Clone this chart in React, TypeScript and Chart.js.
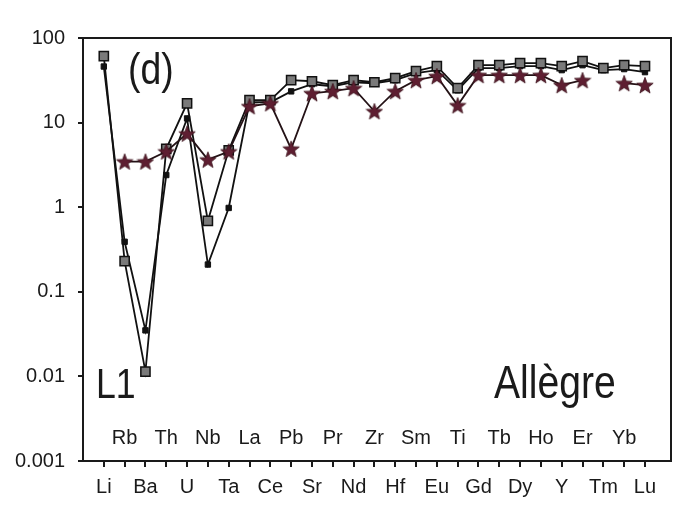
import React, { useEffect, useRef } from "react";
import { Chart, registerables } from "chart.js";

Chart.register(...registerables);

const categories = ["Li","Rb","Ba","Th","U","Nb","Ta","La","Ce","Pb","Sr","Pr","Nd","Zr","Hf","Sm","Eu","Ti","Gd","Tb","Dy","Ho","Y","Er","Tm","Yb","Lu"];
const seriesA = [61,0.23,0.0114,4.9,16.9,0.69,4.7,18.4,18.4,31.7,30.8,27.7,31.7,30,33.5,40.5,46.5,25.5,47.7,47.7,50.5,50.5,46.5,53.3,44,47.7,46.5];
const seriesB = [46,0.39,0.035,2.4,11.2,0.21,0.98,17.4,17.4,23.4,28.4,26.9,30,29.2,31.7,38.4,41.7,24.1,44,44,46.5,46.5,41.7,47.7,41.7,42.9,39.5];
const seriesStar = [null,3.46,3.46,4.55,7.4,3.65,4.55,15.6,16.9,4.9,22.2,23.5,25.5,13.6,23.5,31.7,35.4,16,36.4,36.4,36.4,36.4,27.7,31.7,null,29.2,27.7];
const yTicks = [0.001, 0.01, 0.1, 1, 10, 100];

const FONT = "'Liberation Sans', Arial, Helvetica, sans-serif";

function makeStar(): HTMLCanvasElement {
  const s = 18;
  const c = document.createElement("canvas");
  c.width = s;
  c.height = s;
  const ctx = c.getContext("2d")!;
  const cx = s / 2, cy = s / 2 + 0.8, ro = 8.6, ri = 3.6;
  ctx.beginPath();
  for (let k = 0; k < 10; k++) {
    const r = k % 2 === 0 ? ro : ri;
    const a = -Math.PI / 2 + (k * Math.PI) / 5;
    const px = cx + r * Math.cos(a), py = cy + r * Math.sin(a);
    if (k === 0) ctx.moveTo(px, py); else ctx.lineTo(px, py);
  }
  ctx.closePath();
  ctx.fillStyle = "#5e1e31";
  ctx.fill();
  ctx.lineWidth = 0.8;
  ctx.strokeStyle = "#3a1019";
  ctx.stroke();
  return c;
}

const toPts = (arr: (number | null)[]) => arr.map((v, i) => ({ x: i, y: v }));

const decor = {
  id: "decor",
  afterDraw(chart: any) {
    const { ctx, chartArea, scales } = chart;
    const xs = scales.x;
    ctx.save();
    // frame top/right
    ctx.strokeStyle = "#1a1a1a";
    ctx.lineWidth = 2;
    ctx.beginPath();
    ctx.moveTo(chartArea.left, chartArea.top);
    ctx.lineTo(chartArea.right, chartArea.top);
    ctx.lineTo(chartArea.right, chartArea.bottom);
    ctx.stroke();
    // odd category labels inside plot
    ctx.fillStyle = "#1a1a1a";
    ctx.font = `20px ${FONT}`;
    ctx.textAlign = "center";
    ctx.textBaseline = "middle";
    categories.forEach((c, i) => {
      if (i % 2 === 1) {
        ctx.fillText(c, xs.getPixelForValue(i), chartArea.bottom - 23);
      }
    });
    // big annotations (condensed)
    const big = (t: string, x: number, y: number, size: number) => {
      ctx.save();
      ctx.translate(x, y);
      ctx.scale(0.85, 1);
      ctx.font = `${size}px ${FONT}`;
      ctx.textAlign = "left";
      ctx.textBaseline = "alphabetic";
      ctx.fillText(t, 0, 0);
      ctx.restore();
    };
    big("(d)", 128, 84, 44);
    big("L1", 96, 398, 42);
    big("Allègre", 494, 398, 46);
    ctx.restore();
  },
};

export default function App() {
  const ref = useRef<HTMLCanvasElement>(null);
  useEffect(() => {
    document.body.style.margin = "0";
    document.body.style.background = "#fff";
    const star = makeStar();
    const chart = new Chart(ref.current!, {
      type: "line",
      data: {
        datasets: [
          {
            label: "star",
            data: toPts(seriesStar),
            borderColor: "#241216",
            borderWidth: 1.8,
            pointStyle: star as any,
            pointRadius: 8,
            spanGaps: false,
            order: 0,
          },
          {
            label: "A",
            data: toPts(seriesA),
            borderColor: "#111",
            borderWidth: 1.8,
            pointStyle: "rect",
            pointRadius: 6.5,
            pointBackgroundColor: "#7a7a7a",
            pointBorderColor: "#111",
            pointBorderWidth: 1.5,
            order: 1,
          },
          {
            label: "B",
            data: toPts(seriesB),
            borderColor: "#111",
            borderWidth: 1.8,
            pointStyle: "rect",
            pointRadius: 3.8,
            pointBackgroundColor: "#111",
            pointBorderColor: "#111",
            pointBorderWidth: 1,
            order: 2,
          },
        ],
      },
      options: {
        responsive: false,
        animation: false,
        events: [],
        layout: { padding: { top: 38, right: 7, left: 0, bottom: 0 }, autoPadding: false },
        plugins: { legend: { display: false }, tooltip: { enabled: false } },
        scales: {
          x: {
            type: "linear",
            min: -1,
            max: 27.25,
            afterBuildTicks: (s: any) => {
              s.ticks = categories.map((_, i) => ({ value: i }));
            },
            afterFit: (s: any) => {
              s.height = 58;
            },
            ticks: {
              autoSkip: false,
              maxRotation: 0,
              padding: 8,
              color: "#1a1a1a",
              font: { family: FONT, size: 20 },
              callback: (v: any) => {
                const i = Math.round(Number(v));
                return i % 2 === 0 ? categories[i] : "";
              },
            },
            grid: { drawOnChartArea: false, drawTicks: true, tickLength: 6, color: "#1a1a1a", lineWidth: 2 },
            border: { display: true, color: "#1a1a1a", width: 2 },
          },
          y: {
            type: "logarithmic",
            min: 0.001,
            max: 100,
            afterBuildTicks: (s: any) => {
              s.ticks = yTicks.map((v) => ({ value: v, major: true }));
            },
            afterFit: (s: any) => {
              s.width = 83;
            },
            ticks: {
              padding: 13,
              color: "#1a1a1a",
              font: { family: FONT, size: 20 },
              callback: (v: any) => String(Number(v)),
            },
            grid: { drawOnChartArea: false, drawTicks: true, tickLength: 5, color: "#1a1a1a", lineWidth: 2 },
            border: { display: true, color: "#1a1a1a", width: 2 },
          },
        },
      },
      plugins: [decor],
    });
    return () => chart.destroy();
  }, []);
  return (
    <div style={{ position: "fixed", left: 0, top: 0, width: 678, height: 519, background: "#fff" }}>
      <canvas ref={ref} width={678} height={519} style={{ display: "block" }} />
    </div>
  );
}
